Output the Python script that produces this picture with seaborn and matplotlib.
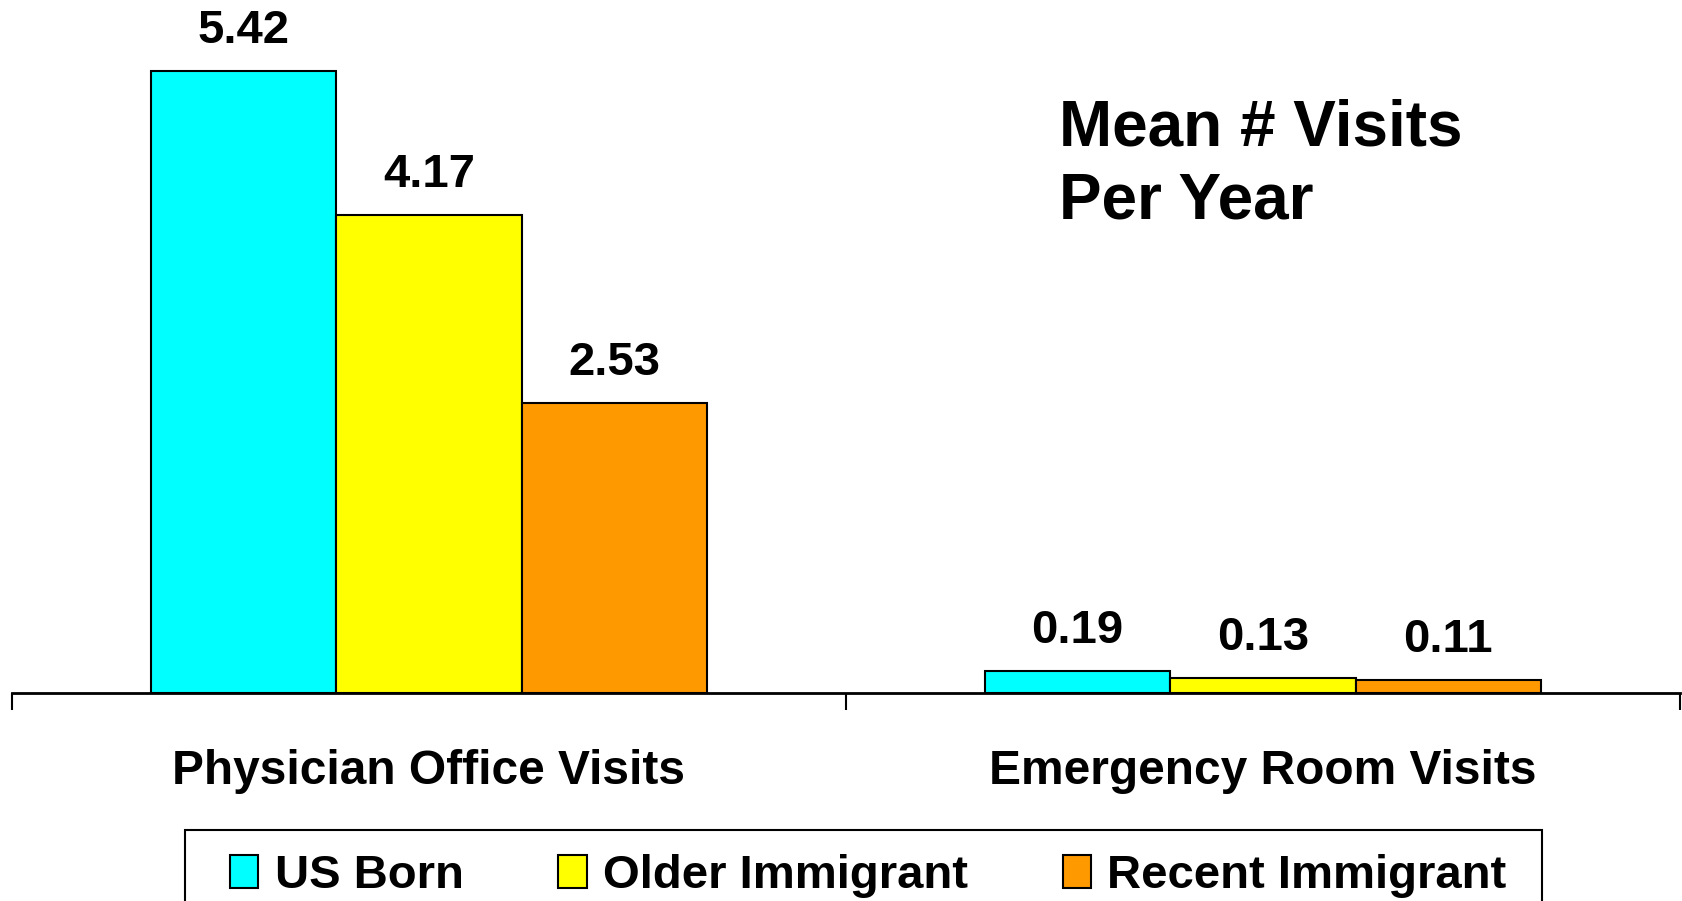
import pandas as pd
import matplotlib.pyplot as plt
import seaborn as sns
from matplotlib.ticker import FixedLocator

# datos
CATEGORIES = ["Physician Office Visits", "Emergency Room Visits"]
GROUPS = ["US Born", "Older Immigrant", "Recent Immigrant"]
US_BORN = [5.42, 0.19]
OLDER_IMM = [4.17, 0.13]
RECENT_IMM = [2.53, 0.11]

GROUP_COLORS = {
  "US Born": "#00FFFF",
  "Older Immigrant": "#FFFF00",
  "Recent Immigrant": "#FF9900",
}

def main():
  rows = []
  for group, vals in zip(GROUPS, [US_BORN, OLDER_IMM, RECENT_IMM]):
    for cat, v in zip(CATEGORIES, vals):
      rows.append({"category": cat, "group": group, "visits": v})
  df = pd.DataFrame(rows)

  sns.set_style("white")
  plt.rcParams['font.family'] = ['Liberation Sans', 'DejaVu Sans']
  plt.rcParams['font.weight'] = 'bold'
  plt.rcParams['text.color'] = 'black'
  plt.rcParams['xtick.color'] = 'black'

  fig = plt.figure(figsize=(16.83, 9.01), dpi=100)
  ax = fig.add_axes([0.0071, 0.2309, 0.9911, 0.7636])

  sns.barplot(
    data=df, x="category", y="visits", hue="group",
    hue_order=GROUPS, order=CATEGORIES, palette=GROUP_COLORS,
    width=0.667, edgecolor="black", linewidth=1.5, gap=0,
    saturation=1, ax=ax
  )

  for cont in ax.containers:
    ax.bar_label(cont, fmt="%.2f", padding=13, fontsize=34, fontweight="bold", color="black")

  ax.set_xlim(-0.5, 1.5)
  ax.set_ylim(0, 6)
  ax.set_xlabel("")
  ax.set_ylabel("")
  ax.set_yticks([])
  for s in ["top", "left", "right"]:
    ax.spines[s].set_visible(False)
  ax.spines["bottom"].set_linewidth(2)
  ax.spines["bottom"].set_color("black")

  # separadores de categoría como ticks menores
  ax.xaxis.set_minor_locator(FixedLocator([-0.5, 0.5, 1.5]))
  ax.tick_params(axis="x", which="minor", length=12, width=1.5, color="black", direction="out", bottom=True)
  ax.tick_params(axis="x", which="major", length=0, pad=40, labelsize=34.5, labelcolor="black")
  for lbl in ax.get_xticklabels():
    lbl.set_fontweight("bold")

  ax.legend_.remove()
  handles = [plt.Rectangle((0, 0), 1, 1, facecolor=GROUP_COLORS[g], edgecolor="black", linewidth=1.5) for g in GROUPS]
  fig.legend(
    handles, GROUPS, loc="upper center", bbox_to_anchor=(0.516, 0.073),
    ncol=3, frameon=False,
    prop={"size": 34, "weight": "bold"}, handlelength=0.6, handleheight=0.7,
    handletextpad=0.35, columnspacing=2.0, borderpad=0.4, borderaxespad=0
  )
  # marco de la leyenda (se corta por abajo como en el original)
  frame = plt.Rectangle((0.110, -0.05), 0.806, 0.1288, transform=fig.transFigure,
                        facecolor="none", edgecolor="black", linewidth=1.5)
  fig.patches.append(frame)

  fig.text(0.629, 0.891, "Mean # Visits\nPer Year", ha="left", va="top",
           fontsize=46, fontweight="bold", linespacing=1.28, color="black")

  fig.savefig("out.png", dpi=100)
  plt.close(fig)


if __name__ == "__main__":
  main()
